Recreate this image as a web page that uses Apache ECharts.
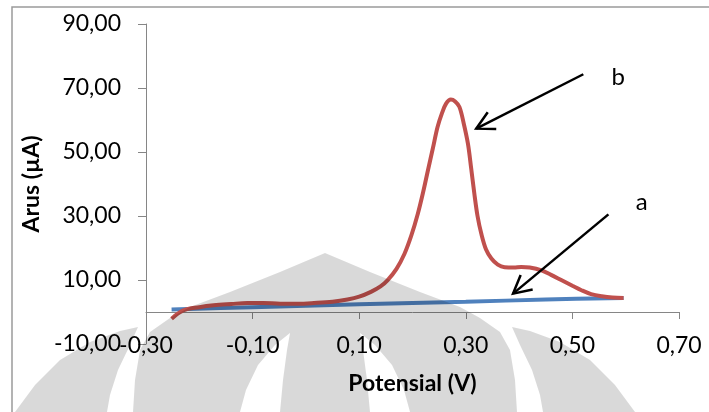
<!DOCTYPE html>
<html>
<head>
<meta charset="utf-8">
<script src="https://cdn.jsdelivr.net/npm/echarts@6/dist/echarts.min.js"></script>
<style>
html, body { margin: 0; padding: 0; background: #fff; }
#chart { width: 709px; height: 412px; }
</style>
</head>
<body>
<div id="chart"></div>
<script>
// kurva a
var potA  = [-0.252, -0.1, 0.1, 0.3, 0.45, 0.596];
var arusA = [0.8, 1.5, 2.4, 3.2, 3.9, 4.4];

// kurva b
var potB  = [-0.252, -0.23, -0.2, -0.173, -0.14, -0.11, -0.08, -0.048, -0.015, 0.015, 0.05, 0.078, 0.1, 0.122, 0.14, 0.153, 0.17, 0.185, 0.198, 0.21, 0.22, 0.229, 0.238, 0.247, 0.255, 0.263, 0.272, 0.28, 0.288, 0.296, 0.304, 0.31, 0.316, 0.322, 0.329, 0.338, 0.348, 0.36, 0.373, 0.39, 0.404, 0.42, 0.442, 0.46, 0.48, 0.5, 0.517, 0.535, 0.555, 0.575, 0.596];
var arusB = [-2.1, 0.5, 1.5, 2.1, 2.5, 2.8, 2.8, 2.6, 2.6, 2.8, 3.2, 3.9, 4.8, 6.3, 8.0, 9.9, 13.5, 18.2, 24, 30.7, 37.5, 44.3, 51, 57.8, 62, 65.1, 66.4, 65.8, 64.1, 59, 52.6, 45, 37, 30, 24.5, 19.5, 16.7, 14.8, 14.0, 13.9, 14.1, 13.9, 13.0, 11.6, 9.9, 8.2, 6.8, 5.6, 4.9, 4.5, 4.4];

var xTicks = [-0.3, -0.1, 0.1, 0.3, 0.5, 0.7];
var yTicks = [-10, 10, 30, 50, 70, 90];

// panah keterangan (titik data)
var notes = [
  { label: 'b', from: [0.5205, 74.3], to: [0.3196, 57.3], at: [0.586, 73.4] },
  { label: 'a', from: [0.5676, 30.5], to: [0.3887, 5.75], at: [0.630, 34.4] }
];

function zip(xs, ys) {
  return xs.map(function (x, i) { return [x, ys[i]]; });
}
function koma(v) {
  return v.toFixed(2).replace('.', ',');
}

var font = 'Lato, "Open Sans", sans-serif';
var axisColor = '#868686';

// watermark hasil pindaian (abu-abu transparan di atas grafik)
var watermark =
  'M325,253 L370,272 L420,292 L460,307 L480,318 L500,332 L510,350 L515,380 L517,412 L133,412 L135,380 L140,350 L150,332 L170,318 L190,307 L230,292 L280,272 Z ' +
  'M290,333 L275,345 L258,365 L246,390 L240,412 L280,412 L283,380 L287,350 Z ' +
  'M360,333 L363,350 L367,380 L370,412 L410,412 L404,390 L392,365 L375,345 Z ' +
  'M138,327 L130,345 L118,370 L110,395 L107,412 L15,412 L35,385 L60,360 L90,342 L120,331 Z ' +
  'M512,327 L530,331 L560,342 L590,360 L615,385 L635,412 L543,412 L540,395 L532,370 L520,345 Z';
echarts.graphic.registerShape('watermark', echarts.graphic.extendPath(watermark, {}));

var chart = echarts.init(document.getElementById('chart'));

chart.setOption({
  animation: false,
  grid: { left: 146, right: 30, top: 24, bottom: 68, containLabel: false, outerBoundsMode: 'none' },
  xAxis: {
    type: 'value',
    min: xTicks[0],
    max: xTicks[xTicks.length - 1],
    interval: xTicks[1] - xTicks[0],
    name: 'Potensial (V)',
    nameLocation: 'middle',
    nameGap: 40,
    nameTextStyle: { fontFamily: font, fontSize: 23, fontWeight: 'bold', color: '#000', verticalAlign: 'middle' },
    axisLine: { onZero: true, lineStyle: { color: axisColor, width: 1 } },
    axisTick: { show: true, length: 7, lineStyle: { color: axisColor } },
    axisLabel: { formatter: koma, margin: 2, verticalAlign: 'middle', fontFamily: font, fontSize: 23, color: '#000' },
    splitLine: { show: false }
  },
  yAxis: {
    type: 'value',
    min: yTicks[0],
    max: yTicks[yTicks.length - 1],
    interval: yTicks[1] - yTicks[0],
    name: 'Arus (µA)',
    nameLocation: 'middle',
    nameRotate: 90,
    nameGap: 100,
    nameTextStyle: { fontFamily: font, fontSize: 23, fontWeight: 'bold', color: '#000' },
    axisLine: { show: true, onZero: false, lineStyle: { color: axisColor, width: 1 } },
    axisTick: { show: true, length: 8, lineStyle: { color: axisColor } },
    axisLabel: { formatter: koma, margin: 25, fontFamily: font, fontSize: 23, color: '#000' },
    splitLine: { show: false }
  },
  series: [
    {
      name: 'a',
      type: 'line',
      data: zip(potA, arusA),
      smooth: 0.35,
      showSymbol: false,
      lineStyle: { color: '#4F81BD', width: 4 }
    },
    {
      name: 'b',
      type: 'line',
      data: zip(potB, arusB),
      smooth: 0.35,
      showSymbol: false,
      lineStyle: { color: '#C0504D', width: 4 }
    }
  ]
});

var graphics = [
  { type: 'rect', silent: true, z: 90, shape: { x: 12, y: 7, width: 800, height: 500 },
    style: { fill: null, stroke: '#9a9a9a', lineWidth: 1.5 } },
  { type: 'watermark', silent: true, z: 100,
    style: { fill: 'rgba(0,0,0,0.15)' } }
];

notes.forEach(function (n) {
  var p1 = chart.convertToPixel({ seriesIndex: 0 }, n.from);
  var p2 = chart.convertToPixel({ seriesIndex: 0 }, n.to);
  var pt = chart.convertToPixel({ seriesIndex: 0 }, n.at);
  var ang = Math.atan2(p1[1] - p2[1], p1[0] - p2[0]);
  var L = 20, s = 28 * Math.PI / 180;
  var h1 = [p2[0] + L * Math.cos(ang - s), p2[1] + L * Math.sin(ang - s)];
  var h2 = [p2[0] + L * Math.cos(ang + s), p2[1] + L * Math.sin(ang + s)];
  graphics.push(
    { type: 'line', silent: true, z: 110, shape: { x1: p1[0], y1: p1[1], x2: p2[0], y2: p2[1] },
      style: { stroke: '#000', lineWidth: 2.5 } },
    { type: 'polyline', silent: true, z: 110, shape: { points: [h1, p2, h2] },
      style: { stroke: '#000', lineWidth: 2.5, fill: null } },
    { type: 'text', silent: true, z: 110,
      style: { text: n.label, x: pt[0], y: pt[1], fill: '#000', font: '24px ' + font, align: 'center', verticalAlign: 'middle' } }
  );
});

chart.setOption({ graphic: graphics });
</script>
</body>
</html>
